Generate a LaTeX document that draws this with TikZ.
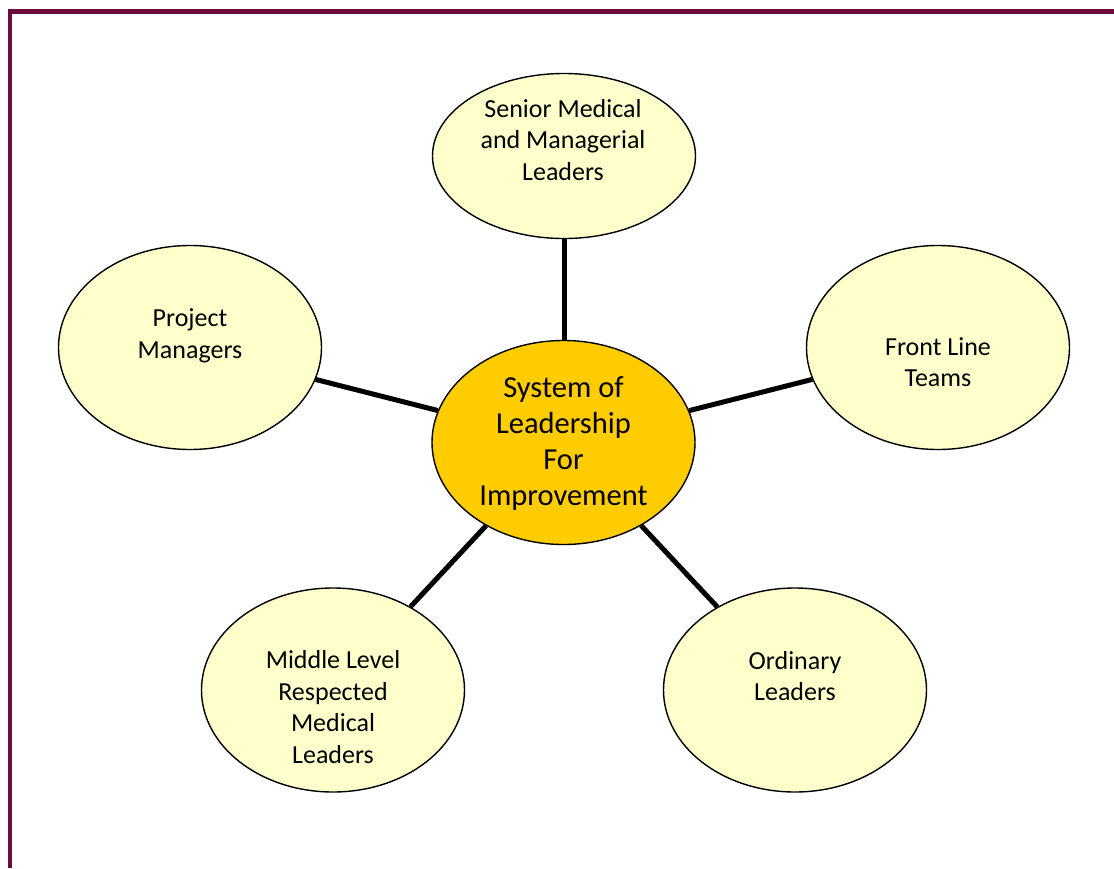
\documentclass[tikz,border=0pt]{standalone}
\usepackage{fontspec}
\setmainfont{Carlito}
\usetikzlibrary{shapes.geometric}
\definecolor{outerfill}{HTML}{FFFFCC}
\definecolor{centerfill}{HTML}{FFCC00}
\definecolor{framecol}{HTML}{6A0C3E}
\begin{document}
\begin{tikzpicture}[x=1pt,y=-1pt,
  outer/.style={ellipse, draw=black, line width=1.4pt, fill=outerfill,
    minimum width=263pt, minimum height=204pt, inner sep=0pt},
  hub/.style={outer, fill=centerfill},
  lbl/.style={align=center, inner sep=0pt, font=\fontsize{26}{31.5}\selectfont},
  hublbl/.style={align=center, inner sep=0pt, font=\fontsize{30.5}{36}\selectfont},
  spoke/.style={line width=5pt, black},
  framestyle/.style={line width=4.4pt, framecol}
]
\useasboundingbox (0,0) rectangle (1114,868);
\draw[framestyle] (1114,11.3) -- (9.7,11.3) -- (9.7,868);

\node[hub] (hub) at (563.5,442.5) {};
\node[outer, minimum height=165pt] (senior) at (564,156) {};
\node[outer] (proj) at (190,347.5) {};
\node[outer] (front) at (938,347.5) {};
\node[outer] (middle) at (333,690) {};
\node[outer] (ord) at (795,690) {};

\draw[spoke] (senior.south) -- (senior.south |- hub.north);
\draw[spoke] (proj) -- (hub);
\draw[spoke] (front) -- (hub);
\draw[spoke] (middle) -- (hub);
\draw[spoke] (ord) -- (hub);

\node[lbl] (tsenior) at (563,140) {Senior Medical\\and Managerial\\Leaders};
\node[lbl] (tproj) at (190,336) {Project\\Managers};
\node[lbl] (tfront) at (938,362) {Front Line\\Teams};
\node[lbl] (tmiddle) at (333,707) {Middle Level\\Respected\\Medical\\Leaders};
\node[lbl] (tord) at (795,676) {Ordinary\\Leaders};
\node[hublbl] (thub) at (563.5,443) {System of\\Leadership\\For\\Improvement};
\end{tikzpicture}
\end{document}
